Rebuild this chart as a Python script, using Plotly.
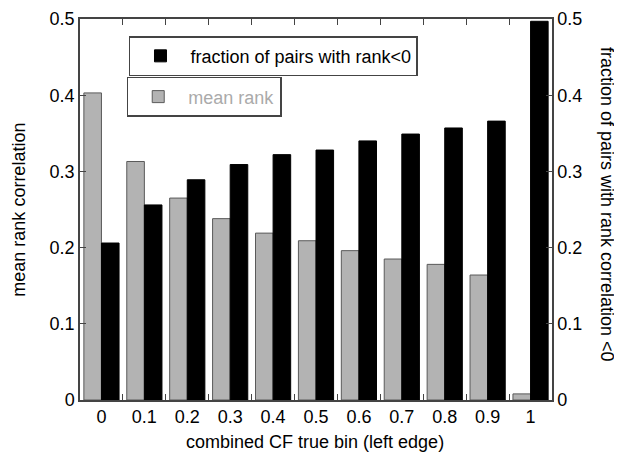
import plotly.graph_objects as go

categories = ["0", "0.1", "0.2", "0.3", "0.4", "0.5", "0.6", "0.7", "0.8", "0.9", "1"]
mean_rank = [0.403, 0.313, 0.265, 0.238, 0.219, 0.209, 0.196, 0.185, 0.178, 0.164, 0.008]
frac_neg = [0.206, 0.256, 0.289, 0.309, 0.322, 0.328, 0.340, 0.349, 0.357, 0.366, 0.497]
y_ticks = [0, 0.1, 0.2, 0.3, 0.4, 0.5]

FONT = "Liberation Sans, Arial, sans-serif"
FS = 18

fig = go.Figure()
fig.add_trace(go.Bar(
    x=categories, y=mean_rank, name="mean rank",
    marker=dict(color="#b3b3b3", line=dict(color="#5a5a5a", width=1)),
    width=0.41, offset=-0.41, legend="legend2", yaxis="y",
))
fig.add_trace(go.Bar(
    x=categories, y=frac_neg, name="fraction of pairs with rank<0",
    marker=dict(color="#000000", line=dict(color="#000000", width=1)),
    width=0.41, offset=0.0, legend="legend", yaxis="y2",
))

axis_common = dict(
    showline=True, linecolor="#444444", linewidth=1.5,
    ticks="inside", ticklen=6, tickcolor="#444444", tickwidth=1.3,
    showgrid=False, zeroline=False, automargin=False,
    tickfont=dict(family=FONT, size=FS, color="#000000"),
)

# the page body has an 8px default margin, so the figure is sized/offset to compensate
fig.update_layout(
    width=614, height=449,
    margin=dict(l=72, r=70, t=11, b=57),
    paper_bgcolor="white", plot_bgcolor="white",
    font=dict(family=FONT, size=FS, color="#000000"),
    barmode="overlay",
    xaxis=dict(**axis_common, type="category", tickson="boundaries", mirror="ticks",
               range=[-0.5, 10.5]),
    yaxis=dict(**axis_common, range=[0, 0.5], tickvals=y_ticks, mirror=True),
    yaxis2=dict(**axis_common, range=[0, 0.5], tickvals=y_ticks, overlaying="y",
                side="right"),
    legend=dict(x=0.1038, y=0.955, xanchor="left", yanchor="top",
                bordercolor="#444444", borderwidth=1.5, bgcolor="white",
                font=dict(family=FONT, size=FS, color="#000000"),
                itemwidth=50),
    legend2=dict(x=0.099, y=0.848, xanchor="left", yanchor="top",
                 bordercolor="#444444", borderwidth=1.5, bgcolor="white",
                 font=dict(family=FONT, size=FS, color="#aaaaaa"),
                 itemwidth=50),
    showlegend=True,
    annotations=[
        dict(text="combined CF true bin (left edge)", xref="paper", yref="paper",
             x=0.498, y=-0.11, xanchor="center", yanchor="middle", showarrow=False,
             font=dict(family=FONT, size=FS)),
        dict(text="mean rank correlation", xref="paper", yref="paper",
             x=-0.131, y=0.5, textangle=-90, xanchor="center", yanchor="middle",
             showarrow=False, font=dict(family=FONT, size=FS)),
        dict(text="fraction of pairs with rank correlation <0", xref="paper",
             yref="paper", x=1.1165, y=0.512, textangle=90, xanchor="center",
             yanchor="middle", showarrow=False, font=dict(family=FONT, size=FS)),
    ],
)

fig.write_html("out.html")
